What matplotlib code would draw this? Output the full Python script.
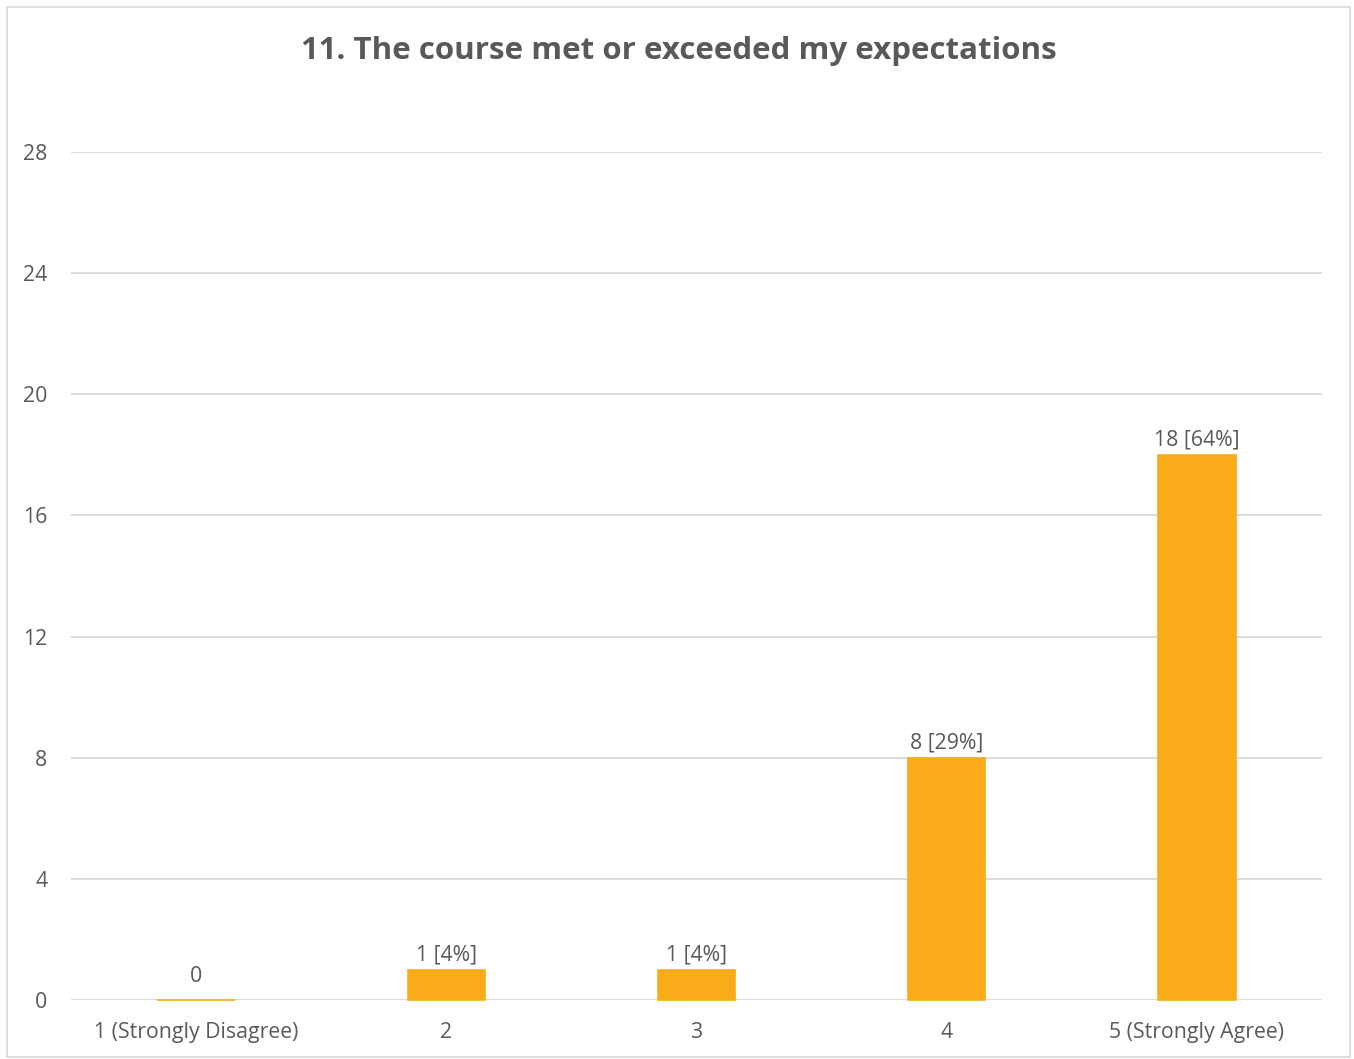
import matplotlib
matplotlib.use("Agg")
import matplotlib.pyplot as plt
from matplotlib.patches import Rectangle

categories = ["1 (Strongly Disagree)", "2", "3", "4", "5 (Strongly Agree)"]
counts = [0, 1, 1, 8, 18]
yticks = [0, 4, 8, 12, 16, 20, 24, 28]
title = "11. The course met or exceeded my expectations"

plt.rcParams['font.family'] = ['Open Sans', 'DejaVu Sans']
GRAY = "#595959"
ORANGE = "#F9AB19"

W, H = 1354, 1059
fig = plt.figure(figsize=(W / 100, H / 100), dpi=100)
fig.patches.append(Rectangle((7 / W, 1 - 1057 / H), 1343 / W, 1050 / H,
                             transform=fig.transFigure, fill=False,
                             edgecolor="#D9D9D9", linewidth=1.2))

ax = fig.add_axes([71 / W, 1 - 1000 / H, (1322 - 71) / W, (1000 - 152) / H])
x = list(range(len(categories)))
bars = ax.bar(x, counts, width=0.31, color=ORANGE, edgecolor=ORANGE,
              linewidth=1.2, zorder=3)
for b in bars:
    b.set_clip_on(False)
ax.set_xlim(-0.5, len(categories) - 0.5)
ax.set_ylim(0, 28)
ax.set_yticks(yticks)
ax.set_yticklabels([str(t) for t in yticks])
ax.set_xticks(x)
ax.set_xticklabels(categories)
ax.grid(axis='y', color="#D9D9D9", linewidth=1.3, zorder=0)
ax.set_axisbelow(True)
for s in ax.spines.values():
    s.set_visible(False)
ax.tick_params(axis='both', length=0, colors=GRAY, labelsize=15.3)
ax.tick_params(axis='y', pad=17)
ax.tick_params(axis='x', pad=16)

total = sum(counts)
for xi, v in zip(x, counts):
    lab = "0" if v == 0 else f"{v} [{round(v / total * 100)}%]"
    off = 9 if v == 0 else 3
    ax.annotate(lab, (xi, v), xytext=(0, off), textcoords='offset points',
                ha='center', va='bottom', fontsize=15.3, color=GRAY, zorder=4)

fig.text(0.5015, 1 - 51 / H, title, ha='center', va='center',
         fontsize=22.5, fontweight='bold', color=GRAY)

fig.savefig("out.png", dpi=100)
